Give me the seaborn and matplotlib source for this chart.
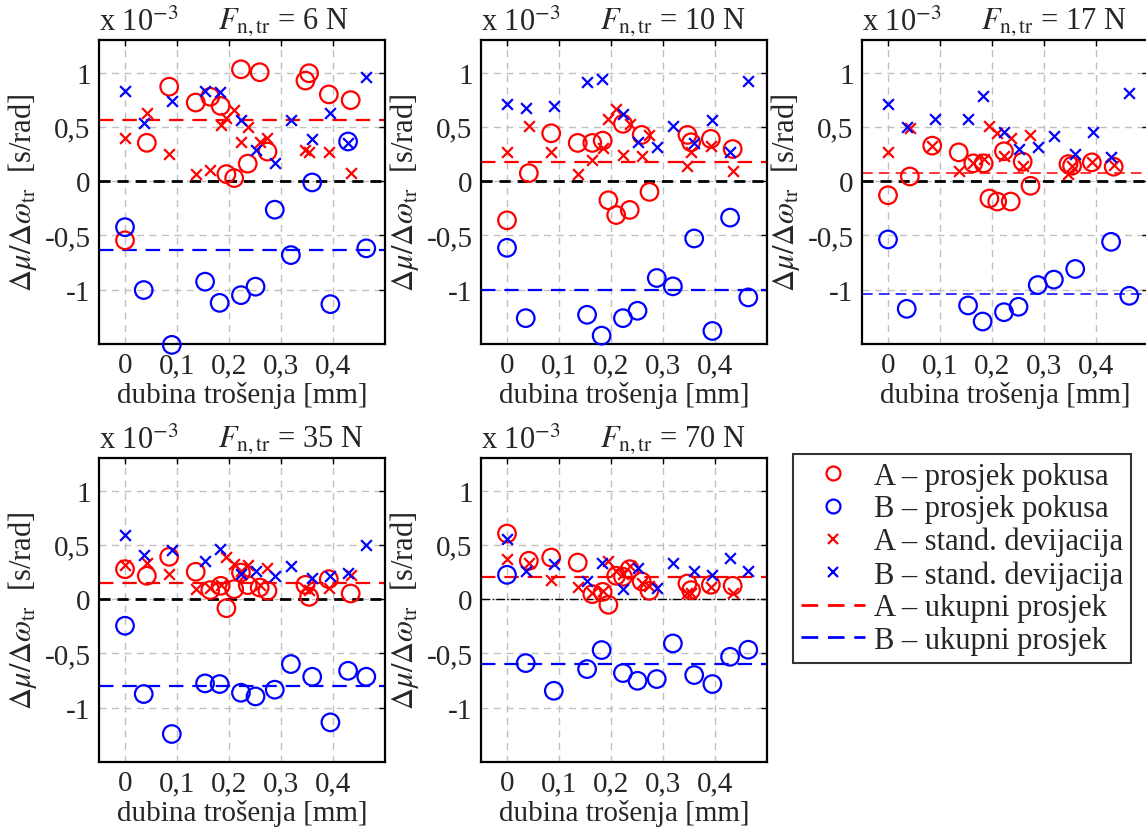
import numpy as np
import pandas as pd
import matplotlib
matplotlib.use('Agg')
import matplotlib.pyplot as plt
import seaborn as sns
from matplotlib.lines import Line2D
from matplotlib.ticker import FuncFormatter

# dubina trosenja [mm] - polozaji tocaka za A i B
x_A = [0, 0.042, 0.085, 0.136, 0.164, 0.184, 0.195, 0.21, 0.223, 0.236, 0.259, 0.274, 0.347, 0.354, 0.392, 0.434]
x_B = [0, 0.036, 0.09, 0.154, 0.182, 0.223, 0.251, 0.288, 0.319, 0.36, 0.395, 0.429, 0.464]

loads = [6, 10, 17, 35, 70]

# F = 6 N
a_avg_6 = [-0.545, 0.353, 0.87, 0.724, 0.777, 0.693, 0.065, 0.028, 1.03, 0.161, 1.003, 0.272, 0.926, 0.994, 0.799, 0.746]
a_sd_6 = [0.396, 0.632, 0.251, 0.062, 0.102, 0.514, 0.582, 0.653, 0.365, 0.498, 0.359, 0.396, 0.291, 0.272, 0.266, 0.074]
b_avg_6 = [-0.424, -1.003, -1.508, -0.926, -1.121, -1.05, -0.972, -0.263, -0.681, -0.012, -1.133, 0.365, -0.619]
b_sd_6 = [0.83, 0.539, 0.737, 0.83, 0.824, 0.567, 0.291, 0.164, 0.56, 0.384, 0.632, 0.35, 0.957]

# F = 10 N
a_avg_10 = [-0.361, 0.074, 0.441, 0.352, 0.352, 0.373, -0.176, -0.312, 0.528, -0.265, 0.426, -0.099, 0.426, 0.358, 0.389, 0.296]
a_sd_10 = [0.265, 0.512, 0.265, 0.065, 0.194, 0.302, 0.568, 0.66, 0.241, 0.528, 0.235, 0.426, 0.136, 0.265, 0.321, 0.09]
b_avg_10 = [-0.614, -1.262, np.nan, -1.231, -1.423, -1.262, -1.194, -0.892, -0.969, -0.528, -1.38, -0.336, -1.071]
b_sd_10 = [0.713, 0.676, 0.691, 0.914, 0.938, 0.62, 0.364, 0.312, 0.512, 0.352, 0.559, 0.265, 0.923]

# F = 17 N
a_avg_17 = [-0.13, 0.043, 0.327, 0.265, 0.164, 0.164, -0.16, -0.188, 0.275, -0.188, 0.179, -0.043, 0.157, 0.142, 0.173, 0.133]
a_sd_17 = [0.265, 0.488, 0.327, 0.09, 0.164, 0.204, 0.506, 0.441, 0.235, 0.398, 0.142, 0.426, 0.065, 0.142, 0.179, 0.148]
b_avg_17 = [-0.537, -1.176, np.nan, -1.145, -1.293, -1.207, -1.157, -0.957, -0.907, -0.809, np.nan, -0.559, -1.056]
b_sd_17 = [0.707, 0.497, 0.574, 0.574, 0.781, 0.457, 0.296, 0.312, 0.414, 0.25, 0.451, 0.225, 0.812]

# F = 35 N
a_avg_35 = [0.276, 0.215, 0.39, 0.252, 0.083, 0.123, -0.083, 0.092, 0.245, 0.129, 0.107, 0.077, 0.132, 0.021, 0.184, 0.052]
a_sd_35 = [0.316, 0.337, 0.236, 0.098, 0.107, 0.132, 0.39, 0.322, 0.261, 0.316, 0.129, 0.291, 0.101, 0.083, 0.101, 0.224]
b_avg_35 = [-0.245, -0.874, -1.242, -0.776, -0.782, -0.862, -0.896, -0.834, -0.598, -0.715, -1.135, -0.66, -0.715]
b_sd_35 = [0.589, 0.408, 0.451, 0.347, 0.466, 0.236, 0.261, 0.215, 0.307, 0.199, 0.215, 0.245, 0.497]

# F = 70 N
a_avg_70 = [0.604, 0.353, 0.383, 0.337, 0.046, 0.067, -0.052, 0.215, 0.206, 0.276, 0.163, 0.077, 0.144, 0.083, 0.132, 0.123]
a_sd_70 = [0.368, 0.337, 0.175, 0.113, 0.061, 0.077, 0.353, 0.261, 0.23, 0.307, 0.153, 0.123, 0.052, 0.061, 0.113, 0.052]
b_avg_70 = [0.224, -0.589, -0.844, -0.644, -0.469, -0.681, -0.752, -0.736, -0.408, -0.699, -0.782, -0.531, -0.466]
b_sd_70 = [0.558, 0.261, 0.322, 0.169, 0.337, 0.092, 0.291, 0.101, 0.337, 0.261, 0.224, 0.383, 0.261]

# ukupni prosjeci
a_total = [0.563, 0.179, 0.071, 0.147, 0.206]
b_total = [-0.632, -1.006, -1.04, -0.804, -0.598]

xticks = [0, 0.1, 0.2, 0.3, 0.4]
yticks = [-1, -0.5, 0, 0.5, 1]

sns.set_theme(style='white')
plt.rcParams['font.family'] = ['Liberation Serif', 'DejaVu Serif']
plt.rcParams['mathtext.fontset'] = 'stix'

panels = [
    (a_avg_6, a_sd_6, b_avg_6, b_sd_6),
    (a_avg_10, a_sd_10, b_avg_10, b_sd_10),
    (a_avg_17, a_sd_17, b_avg_17, b_sd_17),
    (a_avg_35, a_sd_35, b_avg_35, b_sd_35),
    (a_avg_70, a_sd_70, b_avg_70, b_sd_70),
]

# polozaji osi u pikselima (lijevo, gore)
W, H = 1146, 829
pos = [(99, 41), (481, 41), (862, 41), (99, 459), (481, 459)]
aw, ah = 286, 304

fmt = FuncFormatter(lambda v, p: f'{v:g}'.replace('.', ','))

fig = plt.figure(figsize=(W / 100, H / 100), dpi=100)

for i, F in enumerate(loads):
    l, t = pos[i]
    ax = fig.add_axes([l / W, 1 - (t + ah) / H, aw / W, ah / H])
    a_avg, a_sd, b_avg, b_sd = panels[i]

    dA = pd.DataFrame({'x': x_A, 'avg': a_avg, 'sd': a_sd})
    dB = pd.DataFrame({'x': x_B, 'avg': b_avg, 'sd': b_sd})

    thin = (i == 2)
    mlw = 1.1 if thin else 1.6
    mdash = (7, 4) if thin else (6.5, 4)
    ax.axhline(a_total[i], color='red', lw=mlw, dashes=mdash, zorder=2)
    ax.axhline(b_total[i], color='blue', lw=mlw, dashes=mdash, zorder=2)
    if i == 4:
        ax.axhline(0, color='black', lw=1.0, ls='-.', zorder=2)
    else:
        ax.axhline(0, color='black', lw=2.0, dashes=(4, 2.5), zorder=2)

    sns.scatterplot(data=dA, x='x', y='avg', ax=ax, marker='o', s=160,
                    facecolors='none', edgecolor='red', linewidth=1.6, clip_on=False, zorder=3)
    sns.scatterplot(data=dB, x='x', y='avg', ax=ax, marker='o', s=160,
                    facecolors='none', edgecolor='blue', linewidth=1.6, clip_on=False, zorder=3)
    sns.scatterplot(data=dA, x='x', y='sd', ax=ax, marker='x', s=60,
                    color='red', linewidth=1.6, zorder=3)
    sns.scatterplot(data=dB, x='x', y='sd', ax=ax, marker='x', s=60,
                    color='blue', linewidth=1.6, zorder=3)

    ax.set_xlim(-0.05, 0.5)
    ax.set_ylim(-1.5, 1.3)
    ax.set_xticks(xticks)
    ax.set_yticks(yticks)
    ax.xaxis.set_major_formatter(fmt)
    ax.yaxis.set_major_formatter(fmt)
    ax.grid(True, color='#c0c0c0', ls=(0, (5, 4)), lw=1.0)
    ax.set_axisbelow(True)
    ax.tick_params(direction='in', top=True, right=True, length=4, width=1,
                   color='black', labelsize=21, pad=6)
    for s in ax.spines.values():
        s.set_color('black')
        s.set_linewidth(1.6)

    ax.set_xlabel('dubina trošenja [mm]', fontsize=21, labelpad=2)
    ax.set_ylabel(r'$\Delta\mu/\Delta\omega_{\rm tr}$  [s/rad]', fontsize=22, labelpad=4)
    ax.text(0.0, 1.01, r'x 10$^{-3}$', transform=ax.transAxes, fontsize=22,
            ha='left', va='bottom')
    ax.text(0.416, 1.01, r'$F_{\rm n,tr}$ = %d N' % F, transform=ax.transAxes,
            fontsize=22, ha='left', va='bottom')

handles = [
    Line2D([], [], ls='none', marker='o', ms=10, mfc='none', mec='red', mew=1.6),
    Line2D([], [], ls='none', marker='o', ms=10, mfc='none', mec='blue', mew=1.6),
    Line2D([], [], ls='none', marker='x', ms=6.5, color='red', mew=1.6),
    Line2D([], [], ls='none', marker='x', ms=6.5, color='blue', mew=1.6),
    Line2D([], [], color='red', lw=2, dashes=(6, 3.5)),
    Line2D([], [], color='blue', lw=2, dashes=(6, 3.5)),
]
labels = ['A – prosjek pokusa', 'B – prosjek pokusa', 'A – stand. devijacija',
          'B – stand. devijacija', 'A – ukupni prosjek', 'B – ukupni prosjek']
leg = fig.legend(handles, labels, loc='upper left', bbox_to_anchor=(793 / W, 1 - 455 / H),
                 fontsize=22, frameon=True, fancybox=False, edgecolor='black',
                 handlelength=2.1, handletextpad=0.3, labelspacing=0.12, borderpad=0.25,
                 borderaxespad=0)
leg.get_frame().set_linewidth(1.5)

fig.savefig('out.png', dpi=100)
